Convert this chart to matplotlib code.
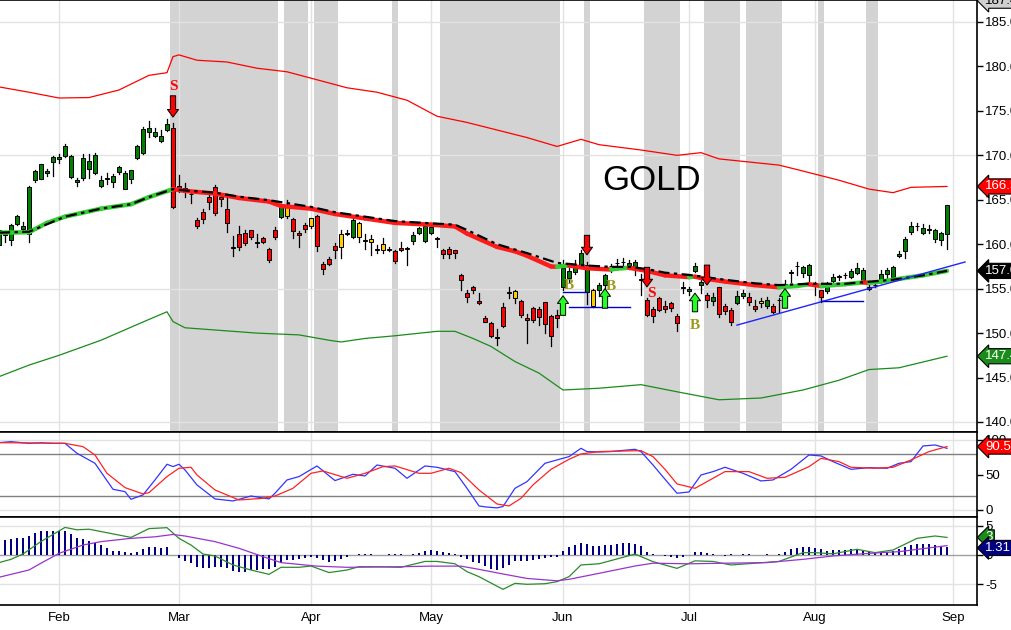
import numpy as np
import matplotlib
matplotlib.use('Agg')
import matplotlib.pyplot as plt
from matplotlib.patches import Rectangle
from matplotlib.collections import LineCollection

plt.rcParams['font.family'] = ['Liberation Sans', 'DejaVu Sans']

# trading-day index: 0 = 1 Feb 2012, first bar = 18 Jan
first_day = -10
month_pos = [0, 20, 42, 62, 84, 105, 126, 149]
month_names = ['Feb', 'Mar', 'Apr', 'May', 'Jun', 'Jul', 'Aug', 'Sep']

opens = [159.9, 161.0, 160.5, 162.3, 161.75, 161.2, 167.2, 167.3, 168.0, 169.3,
         169.55, 169.9, 167.6, 167.0, 167.4, 168.5, 168.0, 166.5, 167.3, 167.0,
         168.1, 166.25, 167.3, 169.7, 170.3, 172.66, 172.2, 171.65, 172.8, 173.1,
         166.6, 166.3, 165.7, 162.7, 163.6, 165.3, 166.4, 165.3, 163.96, 159.7,
         161.1, 161.3, 161.6, 160.2, 160.66, 159.5, 161.6, 163.1, 164.3, 162.8,
         161.3, 162.2, 162.9, 163.2, 157.8, 158.3, 159.8, 161.1, 161.3, 160.8,
         162.4, 160.45, 160.55, 159.5, 160.0, 159.5, 159.2, 159.6, 159.6, 160.4,
         161.3, 160.4, 161.3, 160.65, 159.3, 159.5, 159.35, 156.5, 154.5, 155.2,
         153.6, 151.7, 151.1, 149.6, 152.9, 154.65, 154.7, 153.6, 151.7, 152.8,
         152.7, 153.5, 151.9, 152.0, 155.2, 156.2, 156.9, 157.7, 154.6, 154.8,
         154.8, 155.4, 157.55, 157.85, 158.0, 157.4, 157.4, 156.1, 153.7, 152.7,
         153.9, 153.1, 153.35, 151.9, 155.15, 154.7, 157.0, 155.4, 154.3, 153.6,
         155.15, 153.05, 152.6, 153.4, 154.2, 154.1, 153.05, 153.6, 153.0, 153.05,
         153.7, 155.15, 156.8, 157.55, 156.8, 156.5, 155.6, 154.8, 154.7, 155.9,
         156.35, 156.5, 156.35, 156.8, 156.0, 155.2, 155.4, 155.8, 156.7, 156.35,
         158.7, 159.2, 161.4, 162.0, 161.3, 161.65, 160.55, 160.5, 161.15]
highs = [161.8, 161.4, 162.3, 163.3, 162.5, 166.5, 168.35, 169.0, 168.5, 169.9,
         170.2, 171.3, 170.0, 167.5, 170.15, 170.15, 170.3, 167.7, 168.0, 167.9,
         168.8, 168.2, 168.35, 171.2, 173.15, 173.9, 173.1, 172.85, 174.05, 173.6,
         167.8, 166.9, 166.0, 162.9, 164.0, 165.7, 166.7, 165.7, 165.35, 160.9,
         162.05, 161.6, 161.6, 161.1, 160.8, 159.6, 161.9, 164.5, 165.0, 163.0,
         161.5, 162.4, 162.9, 163.3, 158.0, 158.6, 160.1, 161.6, 161.6, 162.9,
         162.5, 161.2, 161.0, 159.9, 160.7, 159.7, 159.3, 160.2, 159.7, 161.4,
         161.9, 162.3, 162.2, 160.85, 159.5, 159.7, 159.4, 156.7, 154.85, 155.3,
         154.5, 151.9, 151.2, 150.5, 153.35, 155.2, 154.85, 153.7, 152.2, 152.9,
         152.9, 153.5, 152.0, 152.6, 158.2, 157.9, 158.2, 159.3, 158.0, 155.0,
         155.6, 156.7, 157.8, 158.3, 158.4, 158.2, 158.2, 156.7, 153.9, 152.9,
         154.1, 153.6, 153.5, 152.2, 155.8, 155.2, 157.85, 156.0, 154.5, 154.5,
         155.2, 153.3, 152.8, 154.7, 154.8, 154.5, 153.7, 153.9, 154.1, 153.3,
         153.9, 156.0, 157.1, 158.0, 157.55, 157.8, 155.8, 154.85, 155.7, 156.7,
         156.5, 156.8, 157.2, 157.85, 157.3, 155.4, 155.6, 157.1, 157.3, 157.5,
         159.2, 160.8, 162.5, 162.4, 162.3, 162.2, 161.7, 161.4, 164.4]
lows = [159.7, 160.3, 159.9, 162.2, 161.4, 160.3, 167.0, 167.3, 167.7, 167.7,
        169.1, 169.85, 167.5, 166.6, 167.2, 167.4, 167.9, 166.4, 166.8, 166.4,
        167.9, 166.2, 166.9, 169.55, 170.15, 172.1, 172.1, 171.5, 172.7, 164.1,
        165.9, 165.35, 164.6, 161.8, 162.4, 164.0, 163.3, 164.3, 161.4, 158.7,
        159.3, 159.9, 160.55, 159.7, 160.1, 158.0, 160.55, 162.9, 163.0, 160.66,
        159.7, 161.4, 161.8, 159.2, 156.6, 157.7, 158.5, 158.5, 161.0, 160.7,
        160.3, 159.5, 158.8, 159.0, 159.05, 159.2, 157.85, 159.2, 157.7, 160.0,
        161.2, 160.3, 161.2, 159.7, 158.4, 158.5, 158.4, 154.9, 153.5, 154.5,
        153.3, 151.2, 149.6, 148.7, 150.7, 153.9, 153.35, 151.85, 148.85, 151.3,
        150.9, 150.0, 148.5, 150.7, 154.85, 155.8, 156.7, 157.3, 153.3, 152.9,
        154.2, 154.5, 156.9, 157.2, 157.4, 157.2, 156.5, 154.3, 151.9, 151.2,
        152.5, 152.4, 152.5, 150.2, 154.5, 154.3, 156.9, 154.5, 152.9, 153.2,
        151.85, 152.2, 150.9, 153.3, 153.9, 153.2, 152.5, 152.9, 152.8, 152.3,
        152.4, 154.9, 155.7, 156.5, 156.35, 155.9, 154.3, 153.5, 154.5, 155.7,
        156.0, 156.2, 156.2, 156.65, 155.9, 154.9, 155.2, 155.6, 156.2, 156.3,
        158.6, 158.5, 161.15, 161.6, 161.2, 161.3, 160.2, 159.9, 159.5]
closes = [161.6, 161.1, 162.2, 163.2, 162.05, 166.4, 168.2, 169.0, 168.2, 169.8,
          169.8, 171.05, 169.9, 167.2, 169.7, 169.4, 170.0, 167.2, 167.5, 167.7,
          168.7, 168.05, 168.35, 171.05, 172.96, 173.04, 172.6, 172.2, 173.5, 164.2,
          166.1, 165.9, 165.6, 162.1, 162.8, 164.7, 163.55, 165.05, 162.35, 159.6,
          159.7, 160.1, 160.85, 160.15, 160.2, 158.2, 160.85, 164.3, 163.2, 161.5,
          161.075, 161.7, 162.0, 159.8, 157.2, 157.8, 159.3, 159.7, 161.2, 162.7,
          160.85, 160.35, 160.3, 159.3, 159.4, 159.35, 158.15, 159.3, 159.45, 161.0,
          161.8, 162.05, 161.97, 160.55, 158.9, 158.9, 159.05, 156.0, 154.1, 154.8,
          153.4, 151.3, 149.7, 149.45, 150.8, 154.5, 154.0, 152.0, 151.5, 151.5,
          151.85, 151.0, 149.7, 151.7, 157.3, 157.0, 157.55, 159.0, 157.7, 153.0,
          155.4, 156.5, 157.6, 157.9, 158.05, 157.9, 158.0, 156.0, 152.0, 151.9,
          152.6, 152.7, 152.8, 151.1, 155.05, 155.0, 157.6, 155.8, 153.7, 154.1,
          152.2, 152.5, 151.2, 154.2, 154.5, 153.5, 152.7, 153.4, 153.7, 152.4,
          153.75, 155.5, 156.85, 157.6, 157.4, 157.7, 155.55, 154.1, 155.3, 156.35,
          156.4, 156.55, 157.0, 157.3, 157.1, 155.0, 155.45, 156.6, 157.1, 157.4,
          158.9, 160.55, 162.0, 162.05, 161.8, 161.7, 161.6, 161.3, 164.4]
# g = green, r = red, y = yellow bar
candle_colors = ('g' * 29 + 'r' * 18 + 'gyrrryrrrryrgyryryyrry' + 'gggg' + 'r' * 12 + 'yy'
                 + 'r' * 7 + 'ggggg' + 'y' + 'g' * 7 + 'r' * 8 + 'ggg' + 'r' + 'g' + 'rrr'
                 + 'gg' + 'rr' + 'y' + 'g' + 'r' + 'g' * 6 + 'rr' + 'g' * 7 + 'y' + 'g' * 13)

ma_idx = [-10, -5, -2, 1, 7, 12, 15, 19, 21, 26, 30, 35, 37, 42, 46, 51, 56, 62, 66, 68,
          73, 76, 78, 82, 83, 84, 85, 88, 92, 93, 95, 98, 101, 105, 106, 107, 111, 116, 120, 123,
          125, 127, 131, 134, 135, 137, 139, 144, 148]
ma_val = [161.3, 161.35, 162.4, 163.1, 164.0, 164.5, 165.3, 166.2, 166.0, 165.7,
          165.2, 164.8, 164.3, 164.0, 163.4, 162.9, 162.4, 162.2, 162.0, 161.2,
          159.7, 159.2, 158.7, 157.5, 157.45, 157.55, 157.6, 157.3, 157.15, 157.25,
          157.35, 157.0, 156.5, 156.3, 156.35, 156.2, 155.8, 155.4, 155.15, 155.3,
          155.5, 155.3, 155.5, 155.7, 155.65, 155.8, 156.0, 156.5, 157.0]
ema_idx = [-10, -5, 1, 7, 12, 15, 19, 21, 26, 30, 35, 42, 46, 51, 56, 62, 66, 68, 73, 78,
           83, 88, 92, 95, 98, 101, 105, 111, 116, 120, 125, 131, 139, 144, 148]
ema_val = [161.3, 161.4, 163.1, 164.0, 164.5, 165.3, 166.2, 166.05, 165.8, 165.35,
           164.95, 164.2, 163.6, 163.1, 162.6, 162.35, 162.2, 161.6, 160.0, 159.0,
           157.9, 157.6, 157.45, 157.45, 157.2, 156.8, 156.55, 156.0, 155.6, 155.4,
           155.55, 155.55, 156.0, 156.5, 157.0]
upper_idx = [-10, -5, 0, 5, 10, 15, 18, 19, 20, 23, 28, 33, 38, 43, 48, 53, 58, 63, 68, 73,
             78, 83, 87, 90, 97, 103, 107, 110, 115, 120, 123, 130, 135, 139, 142, 148]
upper_val = [177.7, 177.1, 176.45, 176.5, 177.35, 179.0, 179.3, 181.1, 181.3, 180.7,
             180.5, 179.8, 179.4, 178.5, 177.6, 177.1, 176.2, 174.4, 173.7, 172.85,
             172.0, 171.0, 171.8, 171.2, 170.6, 170.0, 170.3, 169.6, 169.25, 168.9,
             168.4, 167.2, 166.2, 165.8, 166.4, 166.5]
lower_idx = [-10, -5, 0, 7, 14, 18, 19, 21, 27, 33, 40, 45, 47, 51, 56, 63, 66, 69, 72, 76,
             80, 84, 90, 97, 103, 110, 117, 124, 130, 135, 140, 148]
lower_val = [145.1, 146.4, 147.5, 149.2, 151.25, 152.4, 151.3, 150.6, 150.3, 150.0,
             149.8, 149.2, 149.0, 149.4, 149.7, 150.2, 150.2, 149.4, 148.5, 146.8,
             145.5, 143.6, 143.8, 144.2, 143.4, 142.5, 142.7, 143.6, 144.7, 145.9,
             146.1, 147.4]

shade_start = [19, 38, 43, 56, 64, 88, 98, 108, 115, 127, 135]
shade_end = [36, 41, 46, 56, 83, 88, 103, 113, 120, 127, 136]

sell_idx = [19, 88, 98, 108]
sell_tail = [176.7, 161.0, 157.4, 157.65]
sell_tip = [174.3, 158.8, 155.2, 155.4]
buy_idx = [84, 91, 106, 121]
buy_tail = [152.0, 152.8, 152.4, 152.8]
buy_tip = [154.2, 155.0, 154.5, 155.0]
s_label_x = [19, 98.8]
s_label_y = [177.7, 154.5]
b_label_x = [85, 92, 106]
b_label_y = [155.4, 155.2, 150.9]

trend_x = [113, 151]
trend_y = [150.9, 158.0]
hlines_y = [154.6, 152.95, 153.6]
hlines_x0 = [84, 85, 127]
hlines_x1 = [88, 95.2, 134]

stoch_k_idx = [-10, -8, -5, -3, -1, 1, 3, 6, 9, 11, 12, 14, 16, 18, 19, 20, 21, 23, 26, 29,
               32, 35, 36, 38, 40, 43, 46, 49, 51, 53, 56, 58, 61, 63, 66, 68, 70, 71, 73, 74,
               76, 78, 81, 83, 85, 87, 88, 90, 92, 96, 97, 99, 101, 103, 105, 107, 109, 111, 114, 117,
               119, 122, 125, 127, 129, 132, 135, 138, 140, 142, 144, 146, 148]
stoch_k_val = [96.2, 97.6, 95.2, 96.0, 95.2, 95.2, 81, 66.7, 29.6, 26.2,
               15.3, 21.5, 42.9, 65.3, 62, 65.3, 57.2, 35.8, 15.8, 12.9,
               20, 15.8, 23.9, 42.9, 47.7, 62.9, 42, 51, 48.6, 64.3,
               59.6, 45.3, 62.9, 61, 54.8, 31, 5.8, 4.5, 3.0, 5.0,
               31, 40.5, 66.7, 71.5, 76.2, 88.1, 83.4, 82.9, 83.5, 86.7,
               83.4, 64.3, 43.9, 23.9, 25.8, 50, 54.8, 61, 52.4, 41.5,
               42.9, 58.1, 78.6, 77.2, 69.1, 58.1, 60.5, 59.6, 66.7, 69.1,
               91.4, 92.9, 88.1]
stoch_d_idx = [-10, 1, 4, 6, 8, 11, 14, 15, 18, 20, 22, 23, 26, 30, 34, 36, 39, 42, 44, 48,
               51, 54, 56, 60, 62, 65, 67, 70, 73, 74, 75, 77, 79, 82, 85, 87, 90, 93, 97, 99,
               101, 103, 106, 108, 111, 115, 118, 121, 125, 127, 130, 132, 136, 139, 142, 145, 148]
stoch_d_val = [96.2, 95.2, 90.5, 78.6, 52.4, 32, 22.9, 24.8, 47.7, 59.6,
               61, 50, 28.6, 14.3, 16.7, 20, 31, 52.4, 55.8, 45.3,
               52.4, 61.9, 62.9, 52.4, 52.4, 59.6, 53.4, 28.6, 8.6, 7.2,
               5.8, 16.7, 35.8, 58.1, 72.4, 80, 83.4, 84, 84.8, 76.2,
               58.1, 37.2, 31, 40.5, 54.8, 54.8, 45.3, 46.7, 61.9, 73.8,
               69.1, 61, 59.6, 61, 71.5, 83.4, 90.6]

macd_idx = [-10, -8, -6, -3, 1, 3, 5, 8, 10, 12, 15, 18, 20, 22, 24, 26, 29, 32, 35, 37,
            40, 42, 45, 48, 50, 53, 57, 61, 63, 66, 68, 70, 74, 76, 78, 81, 83, 85, 87, 90,
            94, 96, 99, 103, 106, 109, 112, 116, 120, 124, 126, 129, 133, 136, 139, 143, 146, 148]
macd_val = [-1.3, -0.74, 0.17, 2.3, 4.7, 4.3, 4.4, 3.8, 3.4, 3.0,
            4.5, 4.66, 2.84, 1.7, 0.17, -0.17, -1.7, -2.56, -3.3, -2.1,
            -2.1, -1.88, -3.0, -2.56, -2.0, -2.0, -2.1, -1.1, -1.1, -1.5,
            -2.84, -3.7, -5.86, -4.84, -5.0, -4.9, -4.55, -3.7, -1.7, -1.5,
            -0.4, 0.17, -1.14, -2.28, -1.0, -1.1, -1.7, -1.4, -1.1, 0.4,
            0.4, 0.2, 0.97, 0.4, 0.85, 2.84, 3.24, 3.0]
signal_idx = [-10, -5, -3, 0, 4, 7, 12, 16, 19, 21, 26, 30, 34, 37, 43, 48, 57, 62, 67, 70,
              74, 78, 83, 85, 90, 96, 99, 105, 111, 118, 124, 129, 135, 140, 148]
signal_val = [-3.8, -2.56, -1.4, 0.28, 1.7, 2.28, 2.84, 3.1, 3.5, 3.24,
              2.28, 1.14, -0.28, -1.3, -1.9, -2.1, -2.0, -1.9, -1.9, -2.45,
              -3.24, -4.0, -4.4, -4.15, -3.13, -1.88, -1.4, -1.5, -1.4, -1.3,
              -0.74, -0.17, 0.28, 0.57, 1.6]
hist_val = [2.5, 2.56, 2.7, 2.84, 2.9, 3.24, 3.7, 4.1, 4.1, 4.1,
            4.1, 4.1, 3.6, 2.96, 2.7, 2.4, 2.0, 1.7, 1.25, 0.74,
            0.74, 0.57, 0.28, 0.45, 0.97, 1.4, 1.4, 1.25, 1.4, 0.0,
            -0.57, -1.0, -1.4, -2.1, -2.28, -2.28, -2.0, -2.0, -2.28, -2.73,
            -2.84, -2.84, -2.56, -2.56, -2.45, -2.45, -2.0, -1.3, -0.85, -0.85,
            -0.74, -0.57, -0.4, -0.57, -0.85, -1.14, -0.97, -0.68, -0.28, -0.05,
            0.17, 0.17, 0.17, 0.0, 0.0, 0.1, 0.1, 0.1, 0.0, 0.17,
            0.4, 0.68, 0.85, 0.6, 0.45, 0.3, 0.17, -0.28, -0.74, -1.14,
            -1.4, -1.88, -2.45, -2.56, -2.28, -1.7, -1.0, -1.0, -0.97, -0.85,
            -0.74, -0.57, -0.4, -0.28, 0.74, 1.4, 1.7, 2.0, 1.8, 1.6,
            1.6, 1.7, 1.7, 1.9, 2.0, 2.0, 1.9, 1.5, 0.57, 0.17,
            0.0, -0.17, -0.28, -0.57, -0.28, 0.0, 0.57, 0.45, 0.4, 0.17,
            0.0, -0.1, 0.1, 0.0, 0.17, 0.17, 0.0, 0.0, 0.17, 0.0,
            0.17, 0.5, 0.97, 1.25, 1.4, 1.4, 1.25, 0.97, 0.74, 0.85,
            0.85, 0.85, 0.97, 0.97, 0.74, 0.57, 0.45, 0.45, 0.57, 0.74,
            0.97, 1.3, 1.7, 1.9, 1.9, 1.9, 1.7, 1.5, 1.31]

body_colors = {'g': '#008000', 'r': '#ff0000', 'y': '#ffcc00'}
grid_c = '#e2e2e2'


def style_axes(ax, ylim, ticks, fmt):
    ax.set_xlim(-9.83, 153)
    ax.set_ylim(*ylim)
    ax.set_facecolor('white')
    ax.spines['left'].set_visible(False)
    for s in ['top', 'bottom', 'right']:
        ax.spines[s].set_color('black')
        ax.spines[s].set_linewidth(1.2)
    ax.yaxis.tick_right()
    ax.set_yticks(ticks)
    ax.set_yticklabels([fmt.format(t) for t in ticks])
    ax.tick_params(axis='y', direction='out', length=4, width=1, pad=2, labelsize=9.5)
    ax.set_xticks(month_pos)
    for m in month_pos:
        ax.axvline(m, color=grid_c, lw=1, zorder=1)


def tag(ax, y, text, fc, tc='white'):
    ax.annotate(text, xy=(1, y), xycoords=('axes fraction', 'data'),
                xytext=(6, 0), textcoords='offset points', ha='left', va='center',
                fontsize=9.5, color=tc, annotation_clip=False, zorder=20,
                bbox=dict(boxstyle='larrow,pad=0.12', fc=fc, ec='black', lw=0.8))


fig = plt.figure(figsize=(10.12, 6.30), dpi=100)
W = 977 / 1012
ax = fig.add_axes([0, 1 - 432 / 630, W, 432 / 630])
ax2 = fig.add_axes([0, 1 - 517 / 630, W, 85 / 630], sharex=ax)
ax3 = fig.add_axes([0, 1 - 605 / 630, W, 88 / 630], sharex=ax)

days = np.arange(first_day, first_day + len(closes))

# ---- price panel
style_axes(ax, (138.875, 187.475), list(range(140, 190, 5)), '{:.1f}')
for a, b in zip(shade_start, shade_end):
    ax.axvspan(a - 0.5, b + 0.5, color='#d3d3d3', lw=0, zorder=0)
for g in [140, 155, 170, 185]:
    ax.axhline(g, color=grid_c, lw=1, zorder=1)

ax.plot(upper_idx, upper_val, color='#ff0000', lw=0.9, zorder=2)
ax.plot(lower_idx, lower_val, color='#1a8c1a', lw=0.9, zorder=2)

pts = np.column_stack([ma_idx, ma_val])
segs = np.stack([pts[:-1], pts[1:]], axis=1)
seg_cols = ['#33cc33' if b > a else '#ff1a1a' for a, b in zip(ma_val[:-1], ma_val[1:])]
ax.add_collection(LineCollection(segs, colors=seg_cols, linewidths=3.2, zorder=5,
                                 capstyle='round'))
ax.plot(ema_idx, ema_val, color='black', lw=1.6, ls=(0, (5, 2, 1.5, 2)), zorder=6)

for d, o, h, l, c, col in zip(days, opens, highs, lows, closes, candle_colors):
    ax.plot([d, d], [l, h], color='black', lw=0.9, zorder=3)
    lo = min(o, c)
    ht = max(abs(c - o), 0.04)
    ax.add_patch(Rectangle((d - 0.37, lo), 0.74, ht, fc=body_colors[col], ec='black',
                           lw=0.7, zorder=4))

ax.plot(trend_x, trend_y, color='#2222ff', lw=1, zorder=6)
for y, x0, x1 in zip(hlines_y, hlines_x0, hlines_x1):
    ax.plot([x0, x1], [y, y], color='#0000cc', lw=1, zorder=6)

astyle = 'simple,head_length=0.55,head_width=0.8,tail_width=0.38'
for k, t0, t1 in zip(sell_idx, sell_tail, sell_tip):
    ax.annotate('', xy=(k, t1), xytext=(k, t0),
                arrowprops=dict(arrowstyle=astyle, fc='#ff0000', ec='black', lw=0.7,
                                shrinkA=0, shrinkB=0), zorder=8)
for k, t0, t1 in zip(buy_idx, buy_tail, buy_tip):
    ax.annotate('', xy=(k, t1), xytext=(k, t0),
                arrowprops=dict(arrowstyle=astyle, fc='#22ff22', ec='black', lw=0.7,
                                shrinkA=0, shrinkB=0), zorder=8)
for x, y in zip(s_label_x, s_label_y):
    ax.text(x, y, 'S', color='#ff0000', fontsize=11, fontweight='bold',
            family='Liberation Serif', ha='center', va='center', zorder=9)
for x, y in zip(b_label_x, b_label_y):
    ax.text(x, y, 'B', color='#9c9c1c', fontsize=11, fontweight='bold',
            family='Liberation Serif', ha='center', va='center', zorder=9)

ax.text(98.8, 167.2, 'GOLD', fontsize=25, ha='center', va='center', color='black', zorder=9)

tag(ax, 187.4, '187.4', '#d0d0d0', 'black')
tag(ax, upper_val[-1], '166.5', '#ff0000')
tag(ax, ma_val[-1], '157.0', '#000000')
tag(ax, lower_val[-1], '147.4', '#1a8c1a')
ax.tick_params(axis='x', length=0, labelbottom=False)

# ---- stochastic panel
style_axes(ax2, (-10, 111.4), [0, 50, 100], '{:d}')
ax2.axhline(0, color=grid_c, lw=1, zorder=1)
ax2.axhline(100, color=grid_c, lw=1, zorder=1)
ax2.axhline(80, color='#808080', lw=1, zorder=1)
ax2.axhline(20, color='#808080', lw=1, zorder=1)
ax2.plot(stoch_k_idx, stoch_k_val, color='#3333ff', lw=0.9, zorder=3)
ax2.plot(stoch_d_idx, stoch_d_val, color='#ff2222', lw=0.9, zorder=3)
tag(ax2, stoch_d_val[-1], '90.59', '#ff0000')
ax2.tick_params(axis='x', length=0, labelbottom=False)

# ---- MACD panel
style_axes(ax3, (-8.53, 6.48), [-5, 0, 5], '{:d}')
ax3.axhline(-5, color=grid_c, lw=1, zorder=1)
ax3.axhline(5, color=grid_c, lw=1, zorder=1)
ax3.axhline(0, color='#a0a0a0', lw=1, zorder=1)
ax3.bar(days, hist_val, width=0.4, color='#000080', zorder=2)
ax3.plot(macd_idx, macd_val, color='#2a8c2a', lw=0.9, zorder=3)
ax3.plot(signal_idx, signal_val, color='#9933cc', lw=0.9, zorder=3)
tag(ax3, 3.0, '3', '#1a8c1a')
tag(ax3, 1.2, '1.31', '#000080')
ax3.set_xticklabels(month_names)
ax3.tick_params(axis='x', length=0, pad=5, labelsize=9.5)

fig.savefig('out.png', dpi=100)
